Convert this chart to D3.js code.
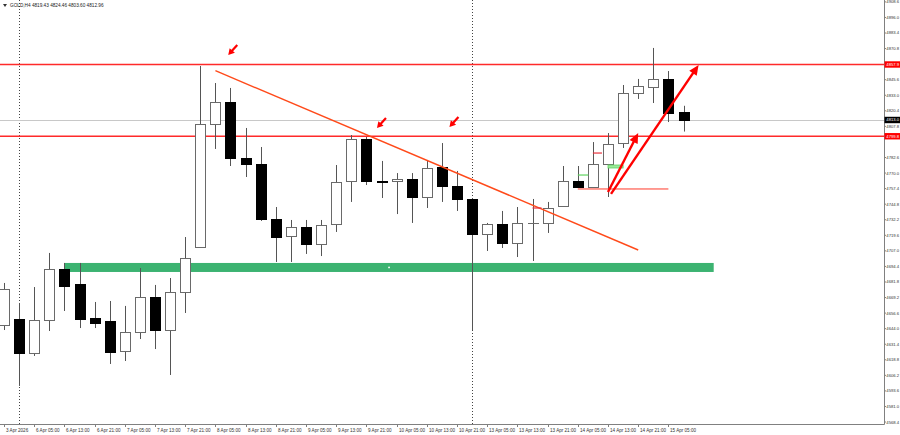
<!DOCTYPE html>
<html>
<head>
<meta charset="utf-8">
<script src="https://cdn.jsdelivr.net/npm/d3@7"></script>
<style>
  body { margin: 0; background: #fff; }
  svg  { display: block; }
  text { font-family: "Liberation Sans", Arial, sans-serif; }
</style>
</head>
<body>
<div id="chart"></div>
<script>
// GOLD H4 candles, 3 Apr - 15 Apr 2026
var opens  = [4647.0, 4651.8, 4624.3, 4651.0, 4692.3, 4680.2, 4652.6, 4650.2, 4625.9, 4641.3,
              4669.6, 4642.9, 4673.7, 4710.1, 4809.7, 4827.5, 4782.2, 4777.3, 4732.8, 4719.0,
              4726.3, 4712.6, 4728.8, 4763.6, 4797.6, 4763.6, 4763.6, 4765.2, 4750.6, 4774.9,
              4759.5, 4749.0, 4720.7, 4728.8, 4713.4, 4729.6, 4729.6, 4743.3, 4763.6, 4758.7,
              4777.3, 4794.3, 4834.8, 4839.7, 4846.2, 4819.43];
var highs  = [4681.0, 4664.8, 4677.7, 4705.3, 4697.2, 4697.2, 4665.6, 4666.4, 4662.4, 4693.1,
              4679.4, 4685.0, 4718.2, 4856.7, 4842.9, 4838.9, 4806.5, 4791.1, 4742.5, 4732.0,
              4732.0, 4732.0, 4776.5, 4800.8, 4799.2, 4779.8, 4770.0, 4770.0, 4780.6, 4794.3,
              4771.7, 4749.8, 4729.6, 4739.3, 4742.5, 4749.0, 4746.6, 4775.7, 4775.7, 4795.1,
              4802.4, 4841.3, 4846.2, 4871.3, 4852.6, 4824.46];
var lows   = [4642.9, 4597.6, 4621.9, 4642.1, 4658.3, 4644.5, 4644.5, 4615.4, 4617.8, 4635.6,
              4627.5, 4606.5, 4656.7, 4709.3, 4789.5, 4775.7, 4766.8, 4731.2, 4698.0, 4698.0,
              4704.5, 4702.8, 4722.3, 4746.6, 4760.3, 4749.8, 4736.8, 4729.6, 4741.7, 4746.6,
              4739.3, 4642.9, 4706.9, 4709.3, 4702.0, 4698.8, 4721.5, 4743.3, 4758.7, 4758.7,
              4750.6, 4790.3, 4830.0, 4826.7, 4811.3, 4803.60];
var closes = [4676.1, 4624.3, 4651.0, 4692.3, 4678.6, 4651.8, 4648.6, 4625.1, 4641.3, 4669.6,
              4642.9, 4673.7, 4701.2, 4809.7, 4827.5, 4782.2, 4777.3, 4732.8, 4718.2, 4726.3,
              4712.6, 4727.9, 4762.8, 4797.6, 4763.6, 4762.8, 4765.2, 4750.6, 4774.1, 4759.5,
              4749.0, 4720.7, 4728.8, 4713.4, 4729.6, 4729.6, 4741.7, 4763.6, 4758.7, 4777.3,
              4793.5, 4834.8, 4840.5, 4846.2, 4818.6, 4812.96];

var timeTickIdx    = [0, 2, 4, 6, 8, 10, 12, 14, 16, 18, 20, 22, 24, 26, 28, 30, 32, 34, 36, 38, 40, 42, 44];
var timeTickLabels = ["3 Apr 2026", "6 Apr 05:00", "6 Apr 13:00", "6 Apr 21:00", "7 Apr 05:00", "7 Apr 13:00",
                      "7 Apr 21:00", "8 Apr 05:00", "8 Apr 13:00", "8 Apr 21:00", "9 Apr 05:00", "9 Apr 13:00",
                      "9 Apr 21:00", "10 Apr 05:00", "10 Apr 13:00", "10 Apr 21:00", "13 Apr 05:00", "13 Apr 13:00",
                      "13 Apr 21:00", "14 Apr 05:00", "14 Apr 13:00", "14 Apr 21:00", "15 Apr 05:00"];
var weekStarts     = [1, 31];

var priceTicks = [4568.4, 4581.0, 4593.6, 4606.2, 4618.8, 4631.4, 4644.0, 4656.6, 4669.2, 4681.8,
                  4694.4, 4707.0, 4719.6, 4732.2, 4744.8, 4757.4, 4770.0, 4782.6, 4795.2, 4807.8,
                  4820.4, 4833.0, 4845.6, 4858.2, 4870.8, 4883.4, 4896.0, 4908.6];

var title        = "GOLD,H4  4819.43 4824.46 4803.60 4812.96";
var levels       = [4857.9, 4799.8];
var bidPrice     = 4812.96;
var zoneIdx      = [4, 47];
var zonePrice    = [4697.2, 4689.9];
var trendLine    = [[14, 4852.9], [42, 4707.7]];
var bigArrows    = [[[40.0, 4754.7], [42.0, 4802.4]], [[40.2, 4753.1], [46.0, 4857.5]]];
var markArrows   = [[14.85, 4865.6], [24.7, 4806.5], [29.5, 4807.3]];
var supportLine  = [[38, 4757.1], [44, 4757.1]];
var tradeMarks   = [[35, 35.6, 4741.7, "#e8323c"], [38, 38.7, 4768.4, "#5fd35f"], [39, 39.6, 4786.2, "#e8323c"]];
var tradeBox     = [[40, 41], [4776.5, 4774.1]];

var width = 900, height = 435, plotRight = 884, plotBottom = 424;

var x = d3.scaleLinear().domain([0, 45]).range([4, 683.5]);
var y = d3.scaleLinear().domain([4566.8, 4910.12]).range([plotBottom, 0]);

var svg = d3.select("#chart").append("svg").attr("width", width).attr("height", height);
var plot = svg.append("g");

function px(v) { return Math.round(v) + 0.5; }

// week separators
plot.selectAll(".sep").data(weekStarts).enter().append("line")
  .attr("x1", function (d) { return px(x(d)); }).attr("x2", function (d) { return px(x(d)); })
  .attr("y1", 0).attr("y2", plotBottom)
  .attr("stroke", "#444").attr("stroke-dasharray", "1,2");

// green zone
plot.append("rect")
  .attr("x", x(zoneIdx[0])).attr("width", x(zoneIdx[1]) - x(zoneIdx[0]))
  .attr("y", y(zonePrice[0])).attr("height", y(zonePrice[1]) - y(zonePrice[0]))
  .attr("fill", "#3cb371");
plot.append("circle")
  .attr("cx", (x(zoneIdx[0]) + x(zoneIdx[1])) / 2).attr("cy", (y(zonePrice[0]) + y(zonePrice[1])) / 2)
  .attr("r", 0.9).attr("fill", "#fff");

// horizontal levels + bid line
plot.append("line").attr("x1", 0).attr("x2", plotRight)
  .attr("y1", px(y(bidPrice))).attr("y2", px(y(bidPrice))).attr("stroke", "#c8c8c8");
plot.selectAll(".lvl").data(levels).enter().append("line")
  .attr("x1", 0).attr("x2", plotRight)
  .attr("y1", function (d) { return y(d); }).attr("y2", function (d) { return y(d); })
  .attr("stroke", "#ff2a2a").attr("stroke-width", 1.4);

// candles
var idx = d3.range(opens.length);
var candle = plot.selectAll(".candle").data(idx).enter().append("g");
candle.append("line")
  .attr("x1", function (i) { return px(x(i)); }).attr("x2", function (i) { return px(x(i)); })
  .attr("y1", function (i) { return y(highs[i]); }).attr("y2", function (i) { return y(lows[i]); })
  .attr("stroke", "#555");
candle.append("rect")
  .attr("x", function (i) { return Math.round(x(i)) - 5 + 0.5; })
  .attr("width", 10)
  .attr("y", function (i) { return Math.round(y(Math.max(opens[i], closes[i]))) + 0.5; })
  .attr("height", function (i) { return Math.max(0.01, Math.round(Math.abs(y(opens[i]) - y(closes[i])))); })
  .attr("fill", function (i) { return closes[i] < opens[i] ? "#000" : "#fff"; })
  .attr("stroke", function (i) { return closes[i] < opens[i] ? "#000" : "#6a6a6a"; });

// trend line
plot.append("line")
  .attr("x1", x(trendLine[0][0])).attr("y1", y(trendLine[0][1]))
  .attr("x2", x(trendLine[1][0])).attr("y2", y(trendLine[1][1]))
  .attr("stroke", "#ff4a1a").attr("stroke-width", 1.4);

// support stub + trade marks
plot.append("line")
  .attr("x1", x(supportLine[0][0])).attr("x2", x(supportLine[1][0]))
  .attr("y1", y(supportLine[0][1])).attr("y2", y(supportLine[1][1]))
  .attr("stroke", "#ff3a2a");
plot.selectAll(".tm").data(tradeMarks).enter().append("line")
  .attr("x1", function (d) { return x(d[0]); }).attr("x2", function (d) { return x(d[1]); })
  .attr("y1", function (d) { return y(d[2]); }).attr("y2", function (d) { return y(d[2]); })
  .attr("stroke", function (d) { return d[3]; }).attr("stroke-width", 1.2);
plot.append("rect")
  .attr("x", x(tradeBox[0][0])).attr("width", x(tradeBox[0][1]) - x(tradeBox[0][0]))
  .attr("y", y(tradeBox[1][0])).attr("height", y(tradeBox[1][1]) - y(tradeBox[1][0]))
  .attr("fill", "#9be89b").attr("stroke", "#5fd35f").attr("stroke-width", 0.8);

// arrows
function arrow(g, x1, y1, x2, y2, w, head, half) {
  var dx = x2 - x1, dy = y2 - y1, len = Math.sqrt(dx * dx + dy * dy);
  var ux = dx / len, uy = dy / len;
  var bx = x2 - ux * head, by = y2 - uy * head;
  g.append("line").attr("x1", x1).attr("y1", y1).attr("x2", bx + ux).attr("y2", by + uy)
    .attr("stroke", "#f00").attr("stroke-width", w);
  g.append("path")
    .attr("d", "M" + x2 + "," + y2 + "L" + (bx - uy * half) + "," + (by + ux * half) +
               "L" + (bx + uy * half) + "," + (by - ux * half) + "Z")
    .attr("fill", "#f00");
}
bigArrows.forEach(function (a) {
  arrow(plot, x(a[0][0]), y(a[0][1]), x(a[1][0]), y(a[1][1]), 2.4, 10, 4.5);
});
markArrows.forEach(function (m) {
  var hx = x(m[0]), hy = y(m[1]);
  arrow(plot, hx + 9, hy - 10, hx, hy, 2.2, 6, 3.5);
});

// axes
svg.append("line").attr("x1", 0).attr("x2", px(plotRight)).attr("y1", px(plotBottom)).attr("y2", px(plotBottom))
  .attr("stroke", "#808080");
svg.append("line").attr("x1", px(plotRight)).attr("x2", px(plotRight)).attr("y1", 0).attr("y2", px(plotBottom))
  .attr("stroke", "#808080");

var tagPrices = levels.concat([bidPrice]);
var shownTicks = priceTicks.filter(function (p) {
  return tagPrices.every(function (t) { return Math.abs(y(t) - y(p)) > 6; });
});

var yt = svg.selectAll(".yt").data(shownTicks).enter().append("g")
  .attr("transform", function (d) { return "translate(0," + y(d) + ")"; });
yt.append("line").attr("x1", plotRight).attr("x2", plotRight + 2).attr("stroke", "#808080");
yt.append("text").attr("x", plotRight + 2.3).attr("dy", "0.35em")
  .attr("font-size", 4.2).attr("fill", "#333")
  .text(function (d) { return d.toFixed(1); });

// price tags
function priceTag(p, fill) {
  var g = svg.append("g").attr("transform", "translate(0," + y(p) + ")");
  g.append("rect").attr("x", plotRight + 0.5).attr("y", -3.2).attr("width", 16).attr("height", 6.4).attr("fill", fill);
  g.append("text").attr("x", plotRight + 2.3).attr("dy", "0.35em").attr("font-size", 4.2).attr("fill", "#fff")
    .text(p.toFixed(1));
}
levels.forEach(function (p) { priceTag(p, "#f00"); });
priceTag(bidPrice, "#000");

var xt = svg.selectAll(".xt").data(timeTickIdx).enter().append("g")
  .attr("transform", function (d) { return "translate(" + px(x(d)) + "," + plotBottom + ")"; });
xt.append("line").attr("y1", 0).attr("y2", 3).attr("stroke", "#808080");
xt.append("text").attr("x", 1.5).attr("y", 8.3)
  .attr("font-size", 4.6).attr("fill", "#333")
  .text(function (d, k) { return timeTickLabels[k]; });

// title
svg.append("path").attr("d", "M3,4L7,4L5,7Z").attr("fill", "#333");
svg.append("text").attr("x", 10).attr("y", 7.3).attr("font-size", 4.7).attr("fill", "#222").text(title);
</script>
</body>
</html>
